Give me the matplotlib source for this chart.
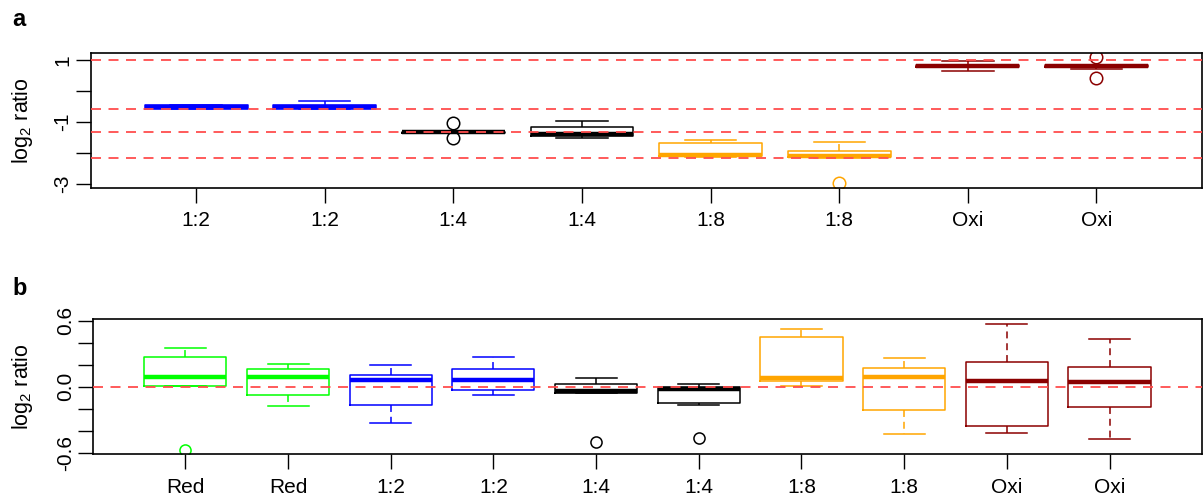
import matplotlib
matplotlib.use("Agg")
import matplotlib.pyplot as plt
import numpy as np

plt.rcParams['font.family'] = ['Liberation Sans', 'DejaVu Sans']
plt.rcParams['mathtext.fontset'] = 'custom'
plt.rcParams['mathtext.rm'] = 'Liberation Sans'
plt.rcParams['mathtext.default'] = 'regular'
plt.rcParams['lines.scale_dashes'] = False

# ---------------- Panel a data ----------------
a_labels = ['1:2', '1:2', '1:4', '1:4', '1:8', '1:8', 'Oxi', 'Oxi']
a_colors = ['#0000ff', '#0000ff', '#000000', '#000000', '#ffa500', '#ffa500', '#8b0000', '#8b0000']
a_whislo = [-0.58, -0.58, -1.36, -1.52, -2.12, -2.15, 0.65, 0.72]
a_q1     = [-0.57, -0.57, -1.35, -1.45, -2.10, -2.13, 0.78, 0.78]
a_med    = [-0.52, -0.52, -1.33, -1.38, -2.07, -2.10, 0.81, 0.81]
a_q3     = [-0.45, -0.44, -1.31, -1.17, -1.67, -1.92, 0.84, 0.83]
a_whishi = [-0.44, -0.32, -1.30, -0.97, -1.58, -1.63, 0.97, 0.84]
a_fliers = [[], [], [-1.02, -1.53], [], [], [-2.98], [], [1.10, 0.41]]
a_refs = [1.0, np.log2(2 / 3), np.log2(2 / 5), np.log2(2 / 9)]
a_yticks = [1, 0, -1, -2, -3]
a_yticklabels = ['1', '', '-1', '', '-3']

# ---------------- Panel b data ----------------
b_labels = ['Red', 'Red', '1:2', '1:2', '1:4', '1:4', '1:8', '1:8', 'Oxi', 'Oxi']
b_colors = ['#00ff00', '#00ff00', '#0000ff', '#0000ff', '#000000', '#000000',
            '#ffa500', '#ffa500', '#8b0000', '#8b0000']
b_whislo = [0.005, -0.18, -0.33, -0.08, -0.055, -0.17, 0.006, -0.43, -0.418, -0.473]
b_q1     = [0.006, -0.075, -0.17, -0.03, -0.055, -0.145, 0.055, -0.21, -0.357, -0.185]
b_med    = [0.091, 0.09, 0.06, 0.06, -0.04, -0.024, 0.076, 0.085, 0.049, 0.045]
b_q3     = [0.267, 0.16, 0.11, 0.158, 0.027, -0.006, 0.45, 0.167, 0.222, 0.182]
b_whishi = [0.355, 0.21, 0.20, 0.27, 0.082, 0.027, 0.525, 0.264, 0.57, 0.436]
b_fliers = [[-0.575], [], [], [], [-0.50], [-0.47], [], [], [], []]
b_refs = [0.0]
b_yticks = [-0.6, -0.4, -0.2, 0.0, 0.2, 0.4, 0.6]
b_yticklabels = ['-0.6', '', '', '0.0', '', '', '0.6']

FS = 15


def draw_panel(ax, labels, colors, whislo, q1, med, q3, whishi, fliers,
               refs, yticks, yticklabels, ylim, xlim, ms):
    stats = []
    for i in range(len(labels)):
        stats.append(dict(med=med[i], q1=q1[i], q3=q3[i], whislo=whislo[i],
                          whishi=whishi[i], fliers=np.array(fliers[i])))
    pos = np.arange(1, len(labels) + 1)
    art = ax.bxp(stats, positions=pos, widths=0.8, showfliers=True,
                 boxprops=dict(linewidth=1.1),
                 whiskerprops=dict(linewidth=1.1, linestyle=(0, (5, 3.5))),
                 capprops=dict(linewidth=1.1),
                 medianprops=dict(linewidth=3.2, solid_capstyle='butt'),
                 flierprops=dict(marker='o', markerfacecolor='none',
                                 markersize=ms, markeredgewidth=1.1,
                                 linestyle='none'))
    for i, c in enumerate(colors):
        art['boxes'][i].set_color(c)
        art['medians'][i].set_color(c)
        for k in (2 * i, 2 * i + 1):
            art['whiskers'][k].set_color(c)
            art['caps'][k].set_color(c)
        art['fliers'][i].set_markeredgecolor(c)
    for r in refs:
        ax.axhline(r, color='#ff4d4d', linewidth=1.3,
                   linestyle=(0, (7.2, 5.4)), zorder=5)
    ax.set_xlim(*xlim)
    ax.set_ylim(*ylim)
    ax.set_xticks(pos)
    ax.set_xticklabels(labels, fontsize=FS)
    ax.set_yticks(yticks)
    ax.set_yticklabels(yticklabels, fontsize=FS, rotation=90, va='center')
    ax.tick_params(axis='x', length=10.5, width=1.0, pad=6.5, direction='out')
    ax.tick_params(axis='y', length=10.5, width=1.0, pad=2.5, direction='out')
    for s in ax.spines.values():
        s.set_linewidth(1.2)
    ax.set_ylabel('log$_2$ ratio', fontsize=FS + 0.5)


fig = plt.figure(figsize=(12.04, 4.99), dpi=100)
ax_a = fig.add_axes([0.0753, 0.6238, 0.9230, 0.2706])
ax_b = fig.add_axes([0.0772, 0.0896, 0.9211, 0.2705])

draw_panel(ax_a, a_labels, a_colors, a_whislo, a_q1, a_med, a_q3, a_whishi,
           a_fliers, a_refs, a_yticks, a_yticklabels, (-3.119, 1.235),
           (0.18, 8.82), 9)
draw_panel(ax_b, b_labels, b_colors, b_whislo, b_q1, b_med, b_q3, b_whishi,
           b_fliers, b_refs, b_yticks, b_yticklabels, (-0.615, 0.613),
           (0.1, 10.9), 8)

ax_a.yaxis.set_label_coords(-0.050, 0.5)
ax_b.yaxis.set_label_coords(-0.052, 0.5)

fig.text(0.0105, 0.948, 'a', fontsize=17, fontweight='bold', ha='left', va='baseline')
fig.text(0.0105, 0.409, 'b', fontsize=17, fontweight='bold', ha='left', va='baseline')

fig.savefig('out.png', dpi=100)
